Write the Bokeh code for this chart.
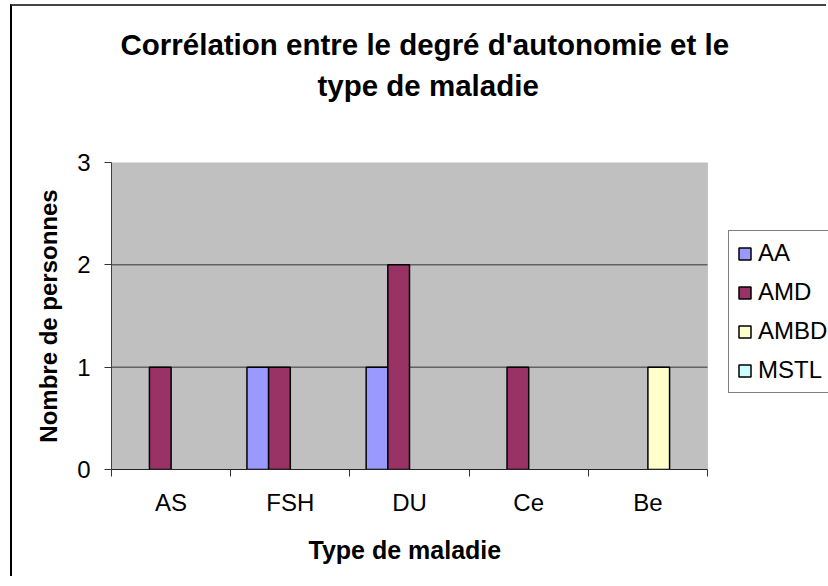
from bokeh.plotting import figure
from bokeh.models import (Range1d, FixedTicker, Legend, LegendItem, Title,
                          ColumnDataSource, BoxAnnotation)
from bokeh.embed import file_html
from bokeh.resources import INLINE

# ---- data ----
categories = ["AS", "FSH", "DU", "Ce", "Be"]
series_names = ["AA", "AMD", "AMBD", "MSTL"]
aa = [0, 1, 1, 0, 0]
amd = [1, 1, 2, 1, 0]
ambd = [0, 0, 0, 0, 1]
mstl = [0, 0, 0, 0, 0]
y_ticks = [0, 1, 2, 3]

series_values = [aa, amd, ambd, mstl]
colors = ["#9999FF", "#993366", "#FFFFCC", "#CCFFFF"]

FONT = "Liberation Sans"

W, H = 816, 572
BL, BR, BT, BB = 99, 0, 156, 108
PLOT_AREA_W = 596          # pixel width of the grey plot area
n_cat = len(categories)
x_end = n_cat * (W - BL - BR) / PLOT_AREA_W

p = figure(width=W, height=H, output_backend="svg", toolbar_location=None,
           x_range=Range1d(0, x_end), y_range=Range1d(0, max(y_ticks)),
           min_border_left=BL, min_border_right=BR,
           min_border_top=BT, min_border_bottom=BB,
           background_fill_color="white", border_fill_color="white",
           title=None)
p.styles = {"border-left": "2px solid black", "border-top": "2px solid #444",
            "margin-left": "10px", "margin-top": "4px"}
p.outline_line_color = None

# grey plot area
p.add_layout(BoxAnnotation(left=0, right=n_cat, bottom=0, top=max(y_ticks),
                           fill_color="#C0C0C0", fill_alpha=1,
                           line_color="#808080", line_width=1, level="image"))

# horizontal gridlines
p.segment(x0=[0] * (len(y_ticks) - 2), x1=[n_cat] * (len(y_ticks) - 2),
          y0=y_ticks[1:-1], y1=y_ticks[1:-1], line_color="#333333", line_width=1)

n_series = len(series_names)
bar_w = 1.0 / (n_series + 1.5)

renderers = []
for s, (name, vals, col) in enumerate(zip(series_names, series_values, colors)):
    xs = [i + 0.5 + (s - (n_series - 1) / 2) * bar_w for i in range(n_cat)]
    # zero-height bars are not drawn (as in the original chart)
    tops = [v if v != 0 else float("nan") for v in vals]
    src = ColumnDataSource(data=dict(x=xs, top=tops))
    r = p.vbar(x="x", top="top", bottom=0, width=bar_w, source=src,
               fill_color=col, line_color="black", line_width=1.5)
    renderers.append(r)

# axes
p.xaxis.bounds = (0, n_cat)
p.xaxis.ticker = FixedTicker(ticks=[i + 0.5 for i in range(n_cat)],
                             minor_ticks=list(range(n_cat + 1)))
p.xaxis.major_label_overrides = {i + 0.5: c for i, c in enumerate(categories)}
p.xaxis.major_tick_line_color = None
p.xaxis.minor_tick_line_color = "#333333"
p.xaxis.minor_tick_out = 7
p.xaxis.minor_tick_in = 0
p.xaxis.axis_line_color = "#222222"
p.xaxis.major_label_standoff = 12

p.yaxis.ticker = FixedTicker(ticks=y_ticks)
p.yaxis.minor_tick_line_color = None
p.yaxis.major_tick_out = 7
p.yaxis.major_tick_in = 0
p.yaxis.major_tick_line_color = "#333333"
p.yaxis.axis_line_color = "#404040"
p.yaxis.major_label_standoff = 14
p.yaxis.axis_label = "Nombre de personnes"
p.yaxis.axis_label_standoff = 12

for ax in (p.xaxis[0], p.yaxis[0]):
    ax.major_label_text_font = FONT
    ax.major_label_text_font_size = "24px"
    ax.major_label_text_color = "black"
    ax.axis_label_text_font = FONT
    ax.axis_label_text_font_size = "24px"
    ax.axis_label_text_font_style = "bold"
    ax.axis_label_text_color = "black"

p.xgrid.grid_line_color = None
p.ygrid.grid_line_color = None

# x axis title, centred under the grey plot area
p.add_layout(Title(text="Type de maladie", align="left", offset=197,
                   text_font=FONT, text_font_size="25px",
                   text_font_style="bold", text_color="black", standoff=30),
             "below")

# chart title (two lines) with a spacer panel next to the frame
spacer = Title(text=" ", text_font_size="1px", standoff=55)
t2 = Title(text="type de maladie", align="left", offset=206,
           text_font=FONT, text_font_size="29.5px", text_font_style="bold",
           text_color="black", standoff=6)
t1 = Title(text="Corrélation entre le degré d'autonomie et le", align="left",
           offset=9, text_font=FONT, text_font_size="29.5px",
           text_font_style="bold", text_color="black", standoff=6)
p.add_layout(spacer, "above")
p.add_layout(t2, "above")
p.add_layout(t1, "above")

legend = Legend(items=[LegendItem(label=n, renderers=[r])
                       for n, r in zip(series_names, renderers)],
                location=(617, 76),
                label_text_font=FONT, label_text_font_size="24px",
                label_text_color="black",
                glyph_width=15, glyph_height=15, label_height=23,
                spacing=11, padding=8, label_standoff=6, margin=0,
                border_line_color="black", border_line_width=1,
                background_fill_color="white", background_fill_alpha=1)
p.add_layout(legend, "center")

open("out.html", "w").write(file_html(p, INLINE))
